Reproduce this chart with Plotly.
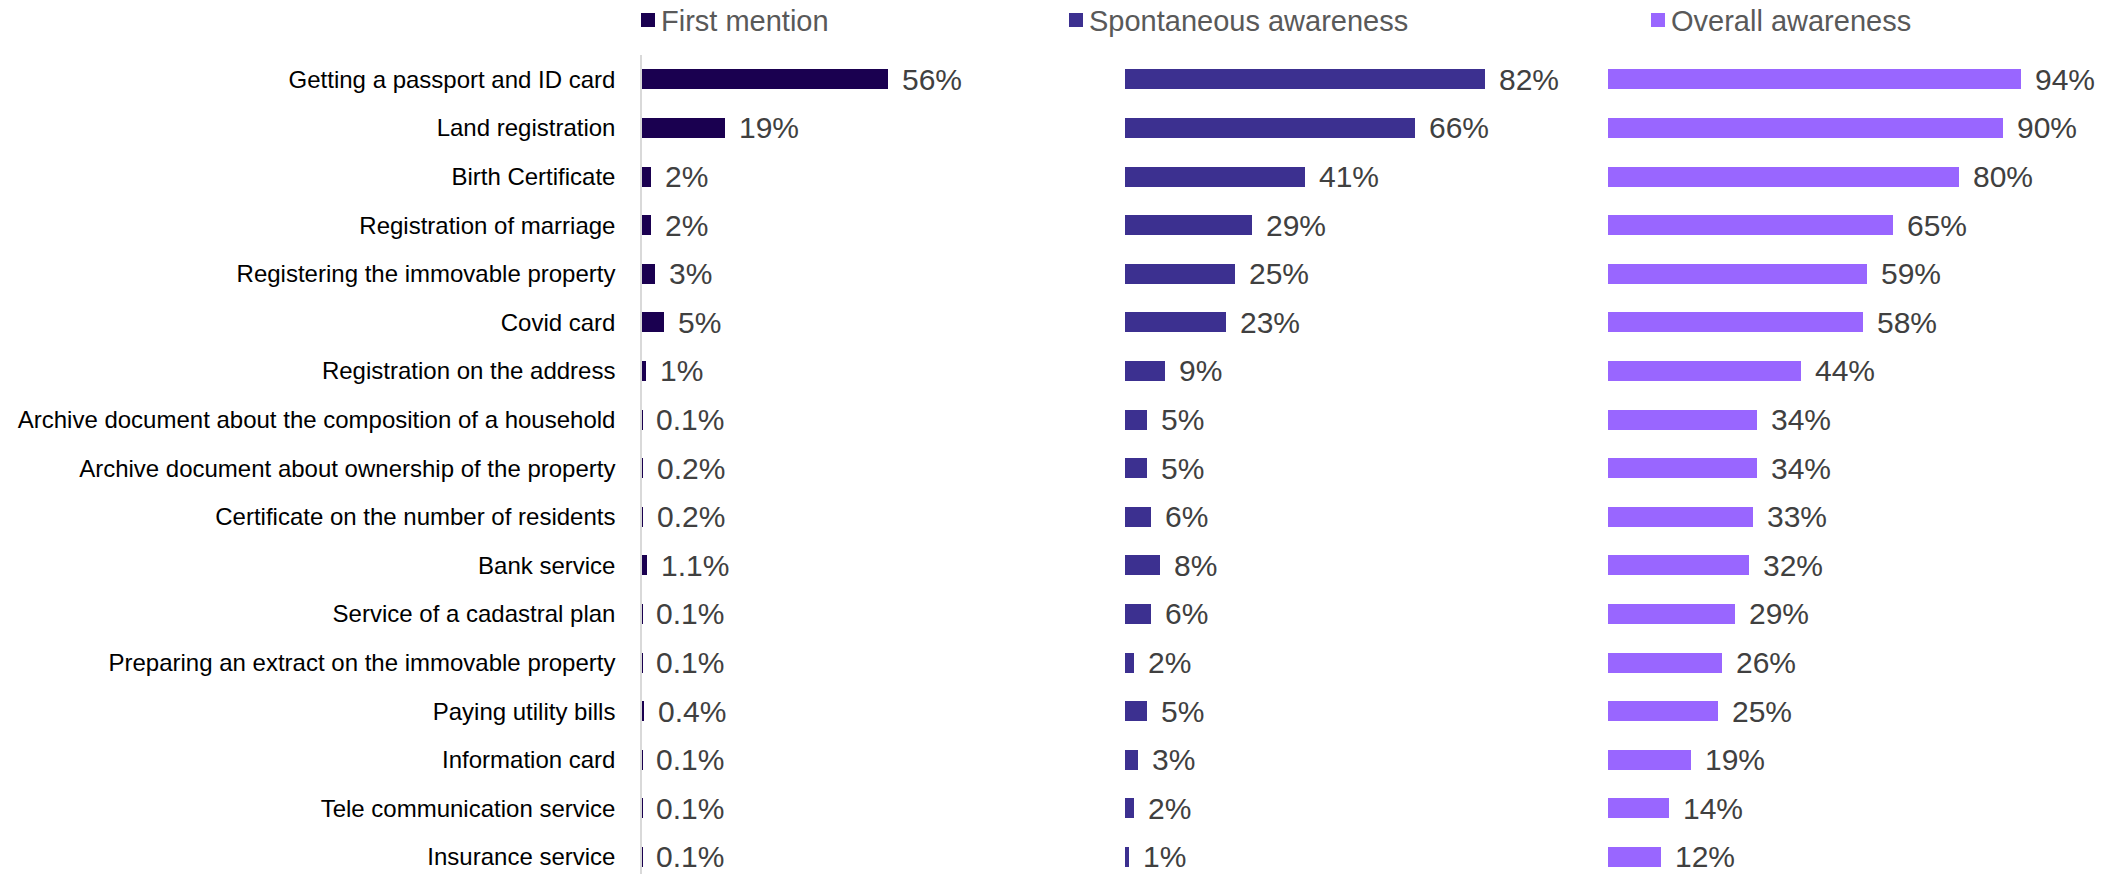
import plotly.graph_objects as go

# Services asked about, in display order (top to bottom)
categories = [
    "Getting a passport and ID card",
    "Land registration",
    "Birth Certificate",
    "Registration of marriage",
    "Registering the immovable property",
    "Covid card",
    "Registration on the address",
    "Archive document about the composition of a household",
    "Archive document about ownership of the property",
    "Certificate on the number of residents",
    "Bank service",
    "Service of a cadastral plan",
    "Preparing an extract on the immovable property",
    "Paying utility bills",
    "Information card",
    "Tele communication service",
    "Insurance service",
]

first_mention = [56, 19, 2, 2, 3, 5, 1, 0.1, 0.2, 0.2, 1.1, 0.1, 0.1, 0.4, 0.1, 0.1, 0.1]
spontaneous = [82, 66, 41, 29, 25, 23, 9, 5, 5, 6, 8, 6, 2, 5, 3, 2, 1]
overall = [94, 90, 80, 65, 59, 58, 44, 34, 34, 33, 32, 29, 26, 25, 19, 14, 12]

series_names = ["First mention", "Spontaneous awareness", "Overall awareness"]
series_values = [first_mention, spontaneous, overall]
series_colors = ["#1a0050", "#3c3090", "#9966ff"]

# Canvas geometry
W, H = 2121, 874
M_L, M_R, M_T, M_B = 642, 30, 55, 0
PLOT_W = W - M_L - M_R
PLOT_H = H - M_T - M_B
ROW_PITCH = 48.6
X_MAX = 110

FONT = "Arial, Liberation Sans, sans-serif"

ypos = list(range(len(categories)))
y_bottom = -0.5 + PLOT_H / ROW_PITCH

fig = go.Figure()
axis_ids = ["x", "x2", "x3"]
annotations = []
shapes = []

for i, (name, vals, color) in enumerate(zip(series_names, series_values, series_colors)):
    xa = axis_ids[i]
    fig.add_trace(go.Bar(
        x=vals, y=ypos, orientation="h", name=name,
        marker=dict(color=color, line=dict(width=0)),
        width=20 / ROW_PITCH,
        xaxis=xa, yaxis="y", showlegend=False, hoverinfo="skip",
    ))
    for v, yv in zip(vals, ypos):
        annotations.append(dict(
            x=v, y=yv, xref=xa, yref="y", text=f"{v:g}%",
            showarrow=False, xanchor="left", yanchor="middle", xshift=12,
            font=dict(family=FONT, size=30, color="#404040"),
        ))

# Legend entries drawn as colored squares with labels above each panel
legend_px = [641, 1069, 1651]
for name, color, lx in zip(series_names, series_colors, legend_px):
    x0 = (lx - M_L) / PLOT_W
    x1 = (lx + 14 - M_L) / PLOT_W
    y0 = (H - M_B - 27) / PLOT_H
    y1 = (H - M_B - 13) / PLOT_H
    shapes.append(dict(type="rect", xref="paper", yref="paper",
                       x0=x0, x1=x1, y0=y0, y1=y1,
                       fillcolor=color, line=dict(width=0)))
    annotations.append(dict(
        x=(lx + 18 - M_L) / PLOT_W, y=(H - M_B - 21) / PLOT_H,
        xref="paper", yref="paper", text=name, showarrow=False,
        xanchor="left", yanchor="middle",
        font=dict(family=FONT, size=29, color="#595959"),
    ))

third = 1 / 3
fig.update_layout(
    width=W, height=H,
    margin=dict(l=M_L, r=M_R, t=M_T, b=M_B),
    paper_bgcolor="white", plot_bgcolor="white",
    bargap=0,
    xaxis=dict(domain=[0, third], range=[0, X_MAX], visible=False, anchor="y"),
    xaxis2=dict(domain=[third, 2 * third], range=[0, X_MAX], visible=False, anchor="y"),
    xaxis3=dict(domain=[2 * third, 1], range=[0, X_MAX], visible=False, anchor="y"),
    yaxis=dict(
        range=[y_bottom, -0.5], tickvals=ypos, ticktext=categories,
        showgrid=False, zeroline=False, showline=True,
        linecolor="#d9d9d9", linewidth=1.5, ticks="",
        ticklabelstandoff=20,
        tickfont=dict(family=FONT, size=24, color="#000000"),
    ),
    annotations=annotations,
    shapes=shapes,
)

fig.write_html("out.html")
